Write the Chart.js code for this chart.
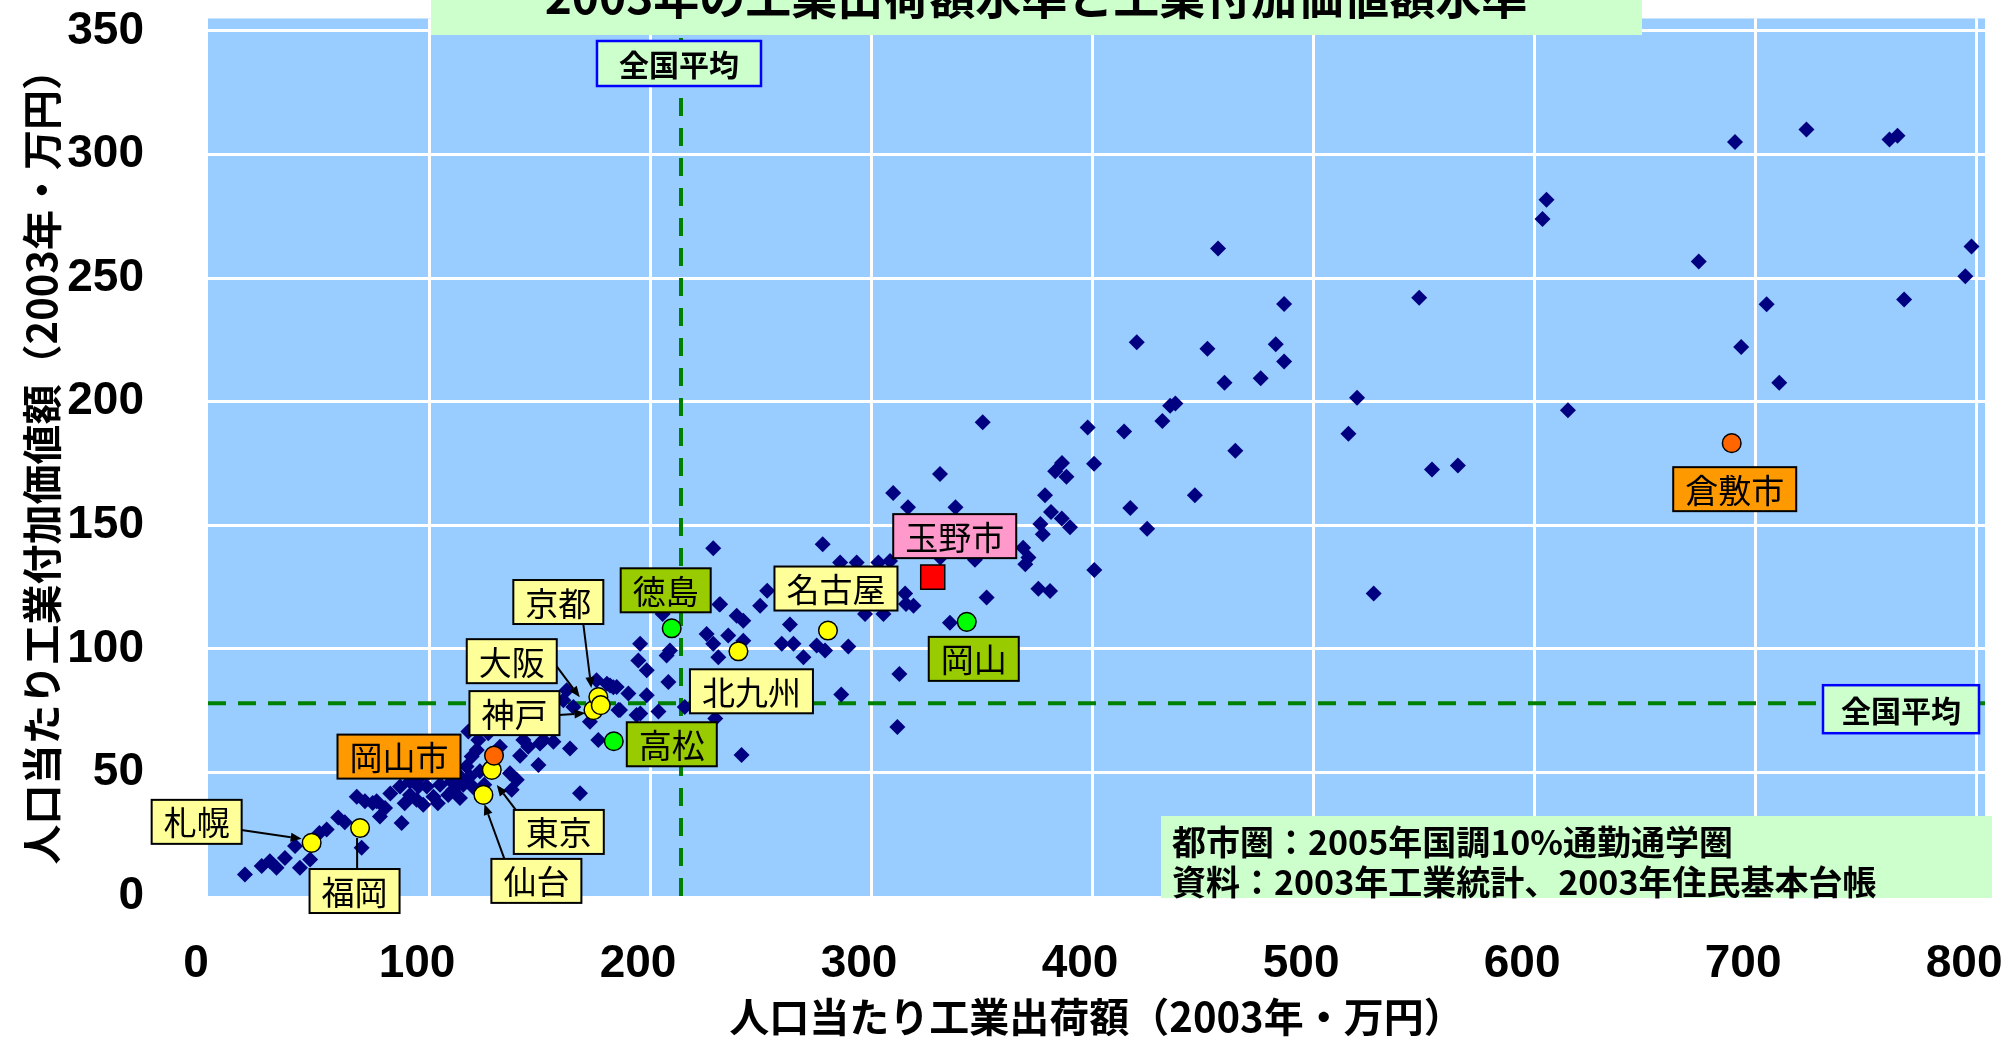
<!DOCTYPE html>
<html lang="ja">
<head>
<meta charset="utf-8">
<title>2003年の工業出荷額水準と工業付加価値額水準</title>
<script src="https://cdn.jsdelivr.net/npm/chart.js@4/dist/chart.umd.min.js"></script>
<style>
  html, body { margin: 0; padding: 0; background: #ffffff; overflow: hidden; }
  canvas { display: block; }
</style>
</head>
<body>
<canvas id="c" width="2008" height="1037"></canvas>
<script>
// ---------------- text ----------------
const chartTitle = '2003年の工業出荷額水準と工業付加価値額水準';
const xAxisTitle = '人口当たり工業出荷額（2003年・万円）';
const yAxisTitle = '人口当たり工業付加価値額（2003年・万円）';
const noteLines = ['都市圏：2005年国調10%通勤通学圏', '資料：2003年工業統計、2003年住民基本台帳'];
const avgLabel = '全国平均';

// ---------------- ticks ----------------
const xTickValues = [0, 100, 200, 300, 400, 500, 600, 700, 800];
const yTickValues = [0, 50, 100, 150, 200, 250, 300, 350];

// ---------------- national averages ----------------
const nationalAvgX = 214;
const nationalAvgY = 78;

// ---------------- all metropolitan areas (per-capita shipments, per-capita value added) ----------------
const areaX = [16.7, 24.3, 28, 31, 34.8, 39.4, 41.6, 46.2, 50.4, 53.7,
  58.9, 61.9, 67.3, 71, 76.3, 80.1, 77.8, 87.6, 69.5, 86.9,
  91.4, 95.2, 99, 102, 105, 108.7, 110.2, 114, 115.5, 118.5,
  117, 119.3, 121.6, 122.3, 126.8, 91.4, 94.4, 97.4, 114, 132.1,
  136.6, 139.7, 137.4, 141.2, 144.9, 150.2, 142.7, 149.5, 151.7, 156.3,
  163.8, 168.3, 117.8, 160.8, 165.3, 172.8, 162.3, 175.8, 181.9, 184.9,
  190.2, 185.7, 193.9, 198.5, 203.8, 176.6, 195.5, 194.7, 198.5, 207.5,
  209, 208.3, 225.6, 228.6, 230.9, 231.7, 100, 104, 107, 111,
  120, 123, 96, 89, 125, 82.5, 74.5, 215.7, 229.5, 286.5,
  241.4, 311.9, 183.4, 205.7, 235.4, 242.2, 259.6, 264.9, 275.4, 279.2,
  289.7, 269.4, 253, 249.8, 231.4, 239.2, 242.2, 263.3, 228.6, 278.1,
  286, 293.5, 303.3, 308.6, 315.4, 315.8, 319.2, 297.3, 305.6, 310,
  316.7, 338.2, 331.2, 350.5, 331.3, 347, 368.8, 371.2, 369.8, 377.7,
  376.6, 381.4, 386.3, 390, 378.7, 383.3, 386.4, 388.4, 400.9, 398,
  414.5, 401, 352.3, 375.7, 381, 335.7, 312.8, 424.9, 417.3, 446.5,
  420.2, 452.2, 457, 483.1, 486.9, 486.9, 459.9, 476.3, 431.8, 435.3,
  437.7, 464.8, 516, 519.9, 527.4, 548, 553.8, 565.5, 603.8, 605.6,
  615.3, 674.5, 690.9, 693.7, 705.2, 710.9, 723.2, 760.8, 764.4, 767.4,
  795.1, 797.9, 186.4, 195.6, 180.5];
const areaY = [8.7, 12.1, 14.1, 11.4, 15.4, 20.2, 11.4, 14.8, 25.5, 26.9,
  31.8, 29.8, 40.2, 38.3, 38.3, 35.6, 32.2, 29.5, 19.5, 44.3,
  40.9, 44.3, 44.3, 40.2, 45, 40.9, 46.3, 39.6, 45, 48.3,
  52.4, 56.4, 59.1, 63.1, 65.8, 46.3, 38.9, 36.9, 48.3, 60.4,
  49.7, 47, 43, 56.7, 60.4, 61.7, 63.1, 53, 63.1, 62.4,
  59.7, 41.6, 66.5, 79.2, 76.5, 70.5, 83.2, 87.3, 85.2, 84.6,
  81.9, 75.2, 73.2, 81.2, 74.6, 63.1, 102, 95.3, 91.3, 97.3,
  99.3, 86.6, 106, 102, 96.6, 118, 50, 37.5, 52, 43,
  44, 50.5, 48, 37.5, 45, 41.5, 37.6, 76.5, 71.8, 81.5,
  57, 68.4, 84.5, 114.1, 105.4, 103.3, 102, 102, 101.3, 99.3,
  100.9, 96.6, 123.5, 117.4, 117.9, 113.4, 111.4, 109.8, 140.7, 142.3,
  134.9, 134.9, 134.9, 135.5, 122.4, 118.1, 117.4, 114.1, 114.1, 163,
  157.3, 157.3, 170.7, 191.7, 136.9, 136, 140.9, 136.9, 134.2, 146.3,
  150.5, 155.3, 152.7, 149.2, 162.1, 171.8, 175.2, 169.6, 174.9, 189.5,
  187.9, 131.9, 120.8, 124.3, 123.4, 110.5, 89.8, 148.6, 157, 162.1,
  224, 221.4, 262, 223.2, 239.5, 216.2, 207.6, 209.5, 192.2, 198.3,
  199.2, 180.1, 187, 201.6, 122.4, 242, 172.5, 174.2, 273.9, 281.7,
  196.5, 256.7, 305, 222.1, 239.4, 207.6, 310.1, 306, 307.6, 241.3,
  250.7, 262.8, 75.2, 73.8, 85.9];

// ---------------- highlighted areas ----------------
const cityNames = ['札幌', '福岡', '仙台', '東京', '神戸', '京都', '大阪', '北九州', '名古屋',
  '徳島', '高松', '岡山', '岡山市', '倉敷市', '玉野市'];
const cityX = [46.9, 68.8, 124.6, 128.4, 174.4, 176.6, 177.7, 240, 280.5,
  209.8, 183.6, 343.3, 129.4, 689.4, 327.9];
const cityY = [21.5, 27.5, 40.9, 51, 75.2, 80.5, 77.2, 99, 107.4,
  108.3, 62.6, 110.9, 56.8, 183.2, 129];
const cityGroup = ['major', 'major', 'major', 'major', 'major', 'major', 'major', 'major', 'major',
  'pref', 'pref', 'pref', 'city', 'city', 'tamano'];

// ---------------- styles / layout (not data) ----------------
const groupStyle = {
  major:  { fill: '#FFFF00', label: '#FFFF99', shape: 'circle', radius: 9.3 },
  pref:   { fill: '#00FF00', label: '#99CC00', shape: 'circle', radius: 9.3 },
  city:   { fill: '#FF6600', label: '#FF9900', shape: 'circle', radius: 9.3 },
  tamano: { fill: '#FF0000', label: '#FF99CC', shape: 'rect',   radius: 17 }
};
// label centre offset from its point (px); arrow = [start dx,dy from label centre, end dx,dy from point, head]
const labelLayout = {
  '札幌':  { dx: -115, dy: -21, arrow: [43, 8, -10, -4, true] },
  '福岡':  { dx: -5.5, dy: 63, arrow: [2.6, -21.5, -3, 10, false] },
  '仙台':  { dx: 53, dy: 86, arrow: [-32, -22, 1, 9, true] },
  '東京':  { dx: 67, dy: 62, arrow: [-43, -22, 5, 15, true] },
  '神戸':  { dx: -79, dy: 3, arrow: [44, 2, -8, 3, true] },
  '京都':  { dx: -40, dy: -95, arrow: [25, 22, -7, -9, true] },
  '大阪':  { dx: -89, dy: -44, arrow: [44, 4, -21, -8, true] },
  '北九州': { dx: 13, dy: 40 },
  '名古屋': { dx: 8, dy: -42 },
  '徳島':  { dx: -6, dy: -38 },
  '高松':  { dx: 58, dy: 3 },
  '岡山':  { dx: 7, dy: 37 },
  '岡山市': { dx: -95, dy: 1 },
  '倉敷市': { dx: 3, dy: 46 },
  '玉野市': { dx: 22, dy: -41 }
};

const JP = "'Noto Sans CJK JP', 'Noto Sans CJK SC', sans-serif";
const NUM = "'Liberation Sans', Arial, sans-serif";

function drawArrow(ctx, x1, y1, x2, y2, head) {
  const ang = Math.atan2(y2 - y1, x2 - x1);
  const hl = 11, hw = 4.5;
  const bx = head ? x2 - hl * Math.cos(ang) : x2;
  const by = head ? y2 - hl * Math.sin(ang) : y2;
  ctx.strokeStyle = '#000';
  ctx.lineWidth = 2;
  ctx.beginPath(); ctx.moveTo(x1, y1); ctx.lineTo(bx, by); ctx.stroke();
  if (head) {
    ctx.fillStyle = '#000';
    ctx.beginPath();
    ctx.moveTo(x2, y2);
    ctx.lineTo(bx + hw * Math.sin(ang), by - hw * Math.cos(ang));
    ctx.lineTo(bx - hw * Math.sin(ang), by + hw * Math.cos(ang));
    ctx.closePath(); ctx.fill();
  }
}

function textBox(ctx, text, cx, cy, h, pad, fill, stroke, lw, font) {
  ctx.font = font;
  const w = ctx.measureText(text).width + 2 * pad;
  ctx.fillStyle = fill;
  ctx.fillRect(cx - w / 2, cy - h / 2, w, h);
  ctx.lineWidth = lw; ctx.strokeStyle = stroke;
  ctx.strokeRect(cx - w / 2, cy - h / 2, w, h);
  ctx.fillStyle = '#000';
  ctx.textAlign = 'center'; ctx.textBaseline = 'middle';
  ctx.fillText(text, cx, cy + 1);
  return w;
}

function fixPadding(s) {
  s.paddingLeft = 0; s.paddingRight = 0; s.paddingTop = 0; s.paddingBottom = 0;
}

const plotBackground = {
  id: 'plotBackground',
  beforeDraw(chart) {
    const { ctx, chartArea: a } = chart;
    ctx.save();
    ctx.fillStyle = '#99CCFF';
    ctx.fillRect(a.left, a.top, a.right - a.left, a.bottom - a.top);
    ctx.restore();
  }
};

const annotations = {
  id: 'annotations',
  afterDatasetsDraw(chart) {
    const { ctx, scales: { x, y } } = chart;
    ctx.save();
    cityNames.forEach((name, i) => {
      const lay = labelLayout[name];
      if (!lay) return;
      const px = x.getPixelForValue(cityX[i]);
      const py = y.getPixelForValue(cityY[i]);
      const lx = px + lay.dx, ly = py + lay.dy;
      if (lay.arrow) {
        const [sx, sy, ex, ey, head] = lay.arrow;
        drawArrow(ctx, lx + sx, ly + sy, px + ex, py + ey, head);
      }
      textBox(ctx, name, lx, ly, 44, 12, groupStyle[cityGroup[i]].label, '#000', 2,
        `400 33px ${JP}`);
    });
    ctx.restore();
  },
  afterDraw(chart) {
    const { ctx, chartArea: a, scales: { x, y } } = chart;
    ctx.save();
    // national average labels
    textBox(ctx, avgLabel, x.getPixelForValue(nationalAvgX) - 2, a.top + 45, 45, 22,
      '#CCFFCC', '#0000FF', 2.5, `bold 30px ${JP}`);
    ctx.font = `bold 30px ${JP}`;
    const w2 = ctx.measureText(avgLabel).width + 36;
    textBox(ctx, avgLabel, a.right - 6 - w2 / 2, y.getPixelForValue(nationalAvgY) + 6, 48, 18,
      '#CCFFCC', '#0000FF', 2.5, `bold 30px ${JP}`);
    // source note
    ctx.fillStyle = '#CCFFCC';
    ctx.fillRect(1161, a.bottom - 80, a.right + 7 - 1161, 82);
    ctx.fillStyle = '#000';
    ctx.font = `bold 34px ${JP}`;
    ctx.textAlign = 'left'; ctx.textBaseline = 'middle';
    ctx.fillText(noteLines[0], 1172, a.bottom - 54);
    ctx.fillText(noteLines[1], 1172, a.bottom - 14);
    // chart title (partly cut off at the top, as in the original)
    ctx.fillStyle = '#CCFFCC';
    ctx.fillRect(431, 0, 1211, 35);
    ctx.fillStyle = '#000';
    ctx.font = `bold 46px ${JP}`;
    ctx.textAlign = 'center'; ctx.textBaseline = 'alphabetic';
    ctx.fillText(chartTitle, 1036, 14);
    ctx.restore();
  }
};

const X_MAX = 804, Y_MAX = 355;

new Chart(document.getElementById('c'), {
  type: 'scatter',
  data: {
    datasets: [
      {
        label: '主要都市圏',
        data: cityNames.map((n, i) => ({ x: cityX[i], y: cityY[i] })),
        order: 0,
        pointStyle: cityGroup.map(g => groupStyle[g].shape),
        pointRadius: cityGroup.map(g => groupStyle[g].radius),
        pointBackgroundColor: cityGroup.map(g => groupStyle[g].fill),
        pointBorderColor: '#000000',
        pointBorderWidth: 1.5
      },
      {
        label: '都市圏',
        data: areaX.map((v, i) => ({ x: v, y: areaY[i] })),
        order: 1,
        pointStyle: 'rectRot',
        pointRadius: 8,
        pointBackgroundColor: '#000080',
        pointBorderColor: '#000080',
        pointBorderWidth: 0
      },
      {
        label: '全国平均（出荷額）',
        data: [{ x: nationalAvgX, y: 0 }, { x: nationalAvgX, y: Y_MAX }],
        order: 2, showLine: true, pointRadius: 0,
        borderColor: '#008000', borderWidth: 4, borderDash: [18, 12]
      },
      {
        label: '全国平均（付加価値額）',
        data: [{ x: 0, y: nationalAvgY }, { x: X_MAX, y: nationalAvgY }],
        order: 2, showLine: true, pointRadius: 0,
        borderColor: '#008000', borderWidth: 4, borderDash: [18, 12]
      }
    ]
  },
  options: {
    responsive: false,
    animation: false,
    devicePixelRatio: 1,
    layout: { padding: { top: 15, right: 23, left: 0, bottom: 0 } },
    plugins: {
      legend: { display: false },
      tooltip: { enabled: false },
      title: { display: false }
    },
    scales: {
      x: {
        type: 'linear', min: 0, max: X_MAX,
        afterFit: s => { s.height = 141; fixPadding(s); },
        afterBuildTicks: s => { s.ticks = xTickValues.map(v => ({ value: v })); },
        grid: {
          color: c => (c.tick && c.tick.value === 0) ? 'rgba(0,0,0,0)' : '#FFFFFF',
          lineWidth: 3, drawTicks: false
        },
        border: { display: false },
        ticks: { padding: 41, labelOffset: -12, color: '#000', font: { family: NUM, size: 46, weight: 'bold' } },
        title: {
          display: true, text: xAxisTitle, color: '#000',
          font: { family: JP, size: 40, weight: 'bold', lineHeight: 1 },
          padding: { top: 0, bottom: 0 }
        }
      },
      y: {
        type: 'linear', min: 0, max: Y_MAX,
        afterFit: s => { s.width = 208; fixPadding(s); },
        afterBuildTicks: s => { s.ticks = yTickValues.map(v => ({ value: v })); },
        grid: {
          color: c => (c.tick && c.tick.value === 0) ? 'rgba(0,0,0,0)' : '#FFFFFF',
          lineWidth: 3, drawTicks: false
        },
        border: { display: false },
        ticks: { padding: 64, color: '#000', font: { family: NUM, size: 46, weight: 'bold' } },
        title: {
          display: true, text: yAxisTitle, color: '#000',
          font: { family: JP, size: 40, weight: 'bold', lineHeight: 1 },
          padding: { top: 22, bottom: 0 }
        }
      }
    }
  },
  plugins: [plotBackground, annotations]
});
</script>
</body>
</html>
